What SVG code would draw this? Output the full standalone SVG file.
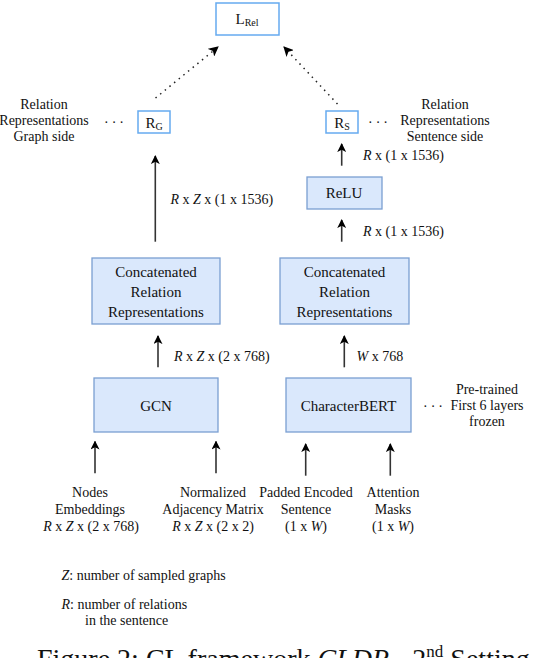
<svg xmlns="http://www.w3.org/2000/svg" width="538" height="658" viewBox="0 0 538 658" font-family="'Liberation Serif','Times New Roman',serif">
<defs>
<marker id="ah" viewBox="0 0 10 10" refX="9" refY="5" markerWidth="9" markerHeight="9" markerUnits="userSpaceOnUse" orient="auto">
<path d="M0,0 L10,5 L0,10 L2.5,5 Z" fill="#000"/>
</marker>
<marker id="ah2" viewBox="0 0 10 10" refX="9" refY="5" markerWidth="10" markerHeight="10" markerUnits="userSpaceOnUse" orient="auto">
<path d="M0,0 L10,5 L0,10 L2.5,5 Z" fill="#000"/>
</marker>
</defs>
<style>
text{font-family:"Liberation Serif","Times New Roman",serif;fill:#111}
.t{font-size:14px}
.b{font-size:15px}
.m{text-anchor:middle}
.w{fill:#fff;stroke:#66aaf0;stroke-width:1.5}
.f{fill:#dae8fc;stroke:#7a9fd2;stroke-width:1.3}
.c{stroke:#333;stroke-width:1.6;fill:none;marker-end:url(#ah)}
.d{stroke:#222;stroke-width:1.5;fill:none;stroke-dasharray:1.5 4.5;marker-end:url(#ah2)}
</style>
<rect width="538" height="658" fill="#fff"/>

<g id="lrel"><rect class="w" x="216" y="3" width="63" height="32"/><text class="b m" x="247" y="24">L<tspan font-size="10" dy="2">Rel</tspan></text></g>
<g id="rg"><rect class="w" x="138" y="111" width="32" height="22"/><text class="b m" x="154" y="128">R<tspan font-size="10" dy="2">G</tspan></text></g>
<g id="rs"><rect class="w" x="326" y="111" width="32" height="22"/><text class="b m" x="342" y="128">R<tspan font-size="10" dy="2">S</tspan></text></g>
<g id="relu"><rect class="f" x="307" y="177" width="75" height="32"/><text class="b m" x="344" y="198">ReLU</text></g>
<g id="concatL"><rect class="f" x="92" y="258" width="128" height="66"/><text class="b m" x="156" y="276.5">Concatenated</text><text class="b m" x="156" y="296.5">Relation</text><text class="b m" x="156" y="316.5">Representations</text></g>
<g id="concatR"><rect class="f" x="280" y="258" width="129" height="66"/><text class="b m" x="344.5" y="276.5">Concatenated</text><text class="b m" x="344.5" y="296.5">Relation</text><text class="b m" x="344.5" y="316.5">Representations</text></g>
<g id="gcn"><rect class="f" x="94" y="378" width="124" height="54"/><text class="b m" x="156" y="411">GCN</text></g>
<g id="cbert"><rect class="f" x="286" y="378" width="125" height="54"/><text class="b m" x="348.5" y="411">CharacterBERT</text></g>

<g id="labels">
<text class="t m" x="44" y="109">Relation</text>
<text class="t m" x="44" y="125">Representations</text>
<text class="t m" x="44" y="141">Graph side</text>
<text class="t m" x="445" y="109">Relation</text>
<text class="t m" x="445" y="125">Representations</text>
<text class="t m" x="445" y="141">Sentence side</text>
<text class="t" x="104" y="127" letter-spacing="3">···</text>
<text class="t" x="368" y="127" letter-spacing="3">···</text>
<text class="t" x="423" y="411" letter-spacing="3">···</text>
<text class="t m" x="487" y="394">Pre-trained</text>
<text class="t m" x="487" y="410">First 6 layers</text>
<text class="t m" x="487" y="426">frozen</text>
<text class="t" x="363" y="160"><tspan font-style="italic">R</tspan> x (1 x 1536)</text>
<text class="t" x="170.5" y="203.5"><tspan font-style="italic">R</tspan> x <tspan font-style="italic">Z</tspan> x (1 x 1536)</text>
<text class="t" x="363" y="236"><tspan font-style="italic">R</tspan> x (1 x 1536)</text>
<text class="t" x="174" y="361"><tspan font-style="italic">R</tspan> x <tspan font-style="italic">Z</tspan> x (2 x 768)</text>
<text class="t" x="356.5" y="361"><tspan font-style="italic">W</tspan> x 768</text>
<text class="t m" x="90" y="497">Nodes</text>
<text class="t m" x="90" y="513.5">Embeddings</text>
<text class="t m" x="91" y="530.5"><tspan font-style="italic">R</tspan> x <tspan font-style="italic">Z</tspan> x (2 x 768)</text>
<text class="t m" x="213" y="497">Normalized</text>
<text class="t m" x="213" y="513.5">Adjacency Matrix</text>
<text class="t m" x="213" y="530.5"><tspan font-style="italic">R</tspan> x <tspan font-style="italic">Z</tspan> x (2 x 2)</text>
<text class="t m" x="306" y="497">Padded Encoded</text>
<text class="t m" x="306" y="513.5">Sentence</text>
<text class="t m" x="306" y="530.5">(1 x <tspan font-style="italic">W</tspan>)</text>
<text class="t m" x="393" y="497">Attention</text>
<text class="t m" x="393" y="513.5">Masks</text>
<text class="t m" x="393" y="530.5">(1 x <tspan font-style="italic">W</tspan>)</text>
<text class="t" x="61.5" y="579.5"><tspan font-style="italic">Z</tspan>: number of sampled graphs</text>
<text class="t" x="61.5" y="608.5"><tspan font-style="italic">R</tspan>: number of relations</text>
<text class="t" x="85" y="625">in the sentence</text>
<text x="37" y="667.5" font-size="28">Figure 2: CL framework <tspan font-style="italic">CLDR</tspan> - 2<tspan font-size="17" dy="-11">nd</tspan><tspan dy="11"> Setting</tspan></text>
</g>

<g id="connectors">
<line class="d" x1="155.5" y1="98" x2="218" y2="47"/>
<line class="d" x1="337.5" y1="104" x2="284" y2="47"/>
<line class="c" x1="155.3" y1="241.7" x2="155.3" y2="156"/>
<line class="c" x1="341.7" y1="165.7" x2="341.7" y2="144"/>
<line class="c" x1="341.7" y1="241.7" x2="341.7" y2="220"/>
<line class="c" x1="158" y1="367.3" x2="158" y2="336"/>
<line class="c" x1="344.3" y1="367.3" x2="344.3" y2="336"/>
<line class="c" x1="95" y1="473.3" x2="95" y2="441.5"/>
<line class="c" x1="216" y1="473.3" x2="216" y2="441.5"/>
<line class="c" x1="305.7" y1="475.7" x2="305.7" y2="444"/>
<line class="c" x1="390.3" y1="475.7" x2="390.3" y2="444"/>
</g>
</svg>
